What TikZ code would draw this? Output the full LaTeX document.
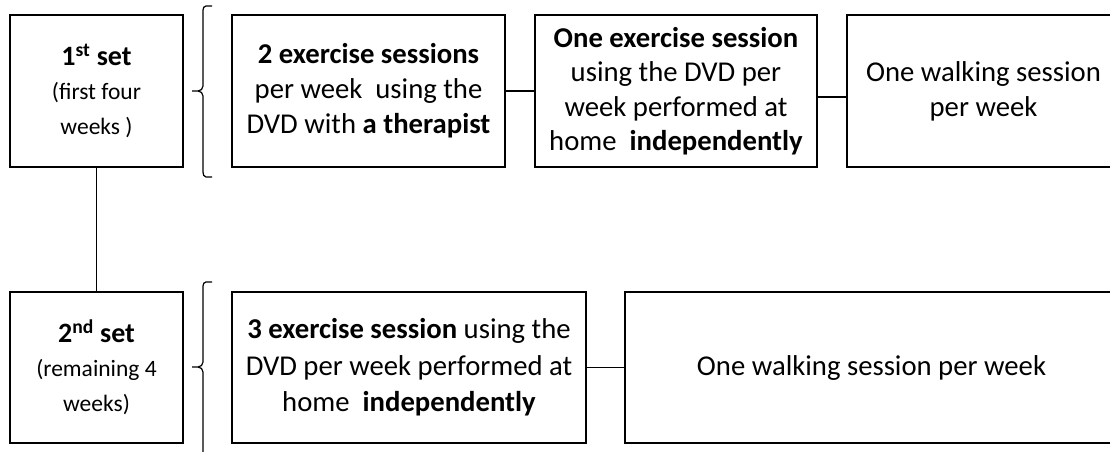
\documentclass[tikz,border=0pt]{standalone}
\usepackage{fontspec}
\setmainfont{Carlito}
\newcommand\bigset{\fontsize{28}{30}\selectfont\bfseries}
\newcommand\smallset{\fontsize{23.5}{29}\selectfont\mdseries}
\begin{document}
\begin{tikzpicture}[x=1pt,y=-1pt,
  box/.style={draw, line width=2.8pt, inner sep=0pt, align=center, font=\fontsize{28.7}{35}\selectfont},
  conn/.style={line width=1.2pt},
  bracket/.style={line width=1.2pt}]
\useasboundingbox (0,0) rectangle (1110,452);
\clip (0,0) rectangle (1110,452);
% set boxes
\node[box, minimum width=173pt, minimum height=152pt] (s1) at (96.5,91)
  {\bigset 1\textsuperscript{st} set\\[-1pt]
   \smallset (first four\\ \smallset weeks )};
\node[box, minimum width=173pt, minimum height=151pt] (s2) at (96.5,367.5)
  {\bigset 2\textsuperscript{nd} set\\[-1pt]
   \smallset (remaining 4\\ \smallset weeks)};
% first set activities
\node[box, minimum width=273pt, minimum height=152pt] (a1) at (368.5,91)
  {\textbf{2 exercise sessions}\\ per week\ \ using the\\ DVD with \textbf{a therapist}};
\node[box, minimum width=282pt, minimum height=152pt, font=\fontsize{28.7}{34.5}\selectfont] (b1) at (676,91)
  {\textbf{One exercise session}\\ using the DVD per\\ week performed at\\ home\ \ \textbf{independently}};
\node[box, minimum width=273pt, minimum height=152pt] (w1) at (983.5,91)
  {One walking session\\ per week};
% second set activities
\node[box, minimum width=354pt, minimum height=151pt, font=\fontsize{28.7}{36.5}\selectfont] (a2) at (409,367.5)
  {\textbf{3 exercise session} using the\\ DVD per week performed at\\ home\ \ \textbf{independently}};
\node[box, minimum width=493pt, minimum height=151pt] (w2) at (871.5,367.5)
  {One walking session per week};
% connectors
\draw[conn] (s1.south) -- (s2.north);
\draw[conn] (a1.east) -- (b1.west);
\draw[conn] (b1.east |- 0,97) -- (w1.west |- 0,97);
\draw[conn] (a2.east) -- (w2.west);
% brackets
\draw[bracket] (212,6) -- (206,6) to[out=180,in=90] (203,10) -- (203,86)
  to[out=-90,in=0] (198,91) -- (192,91);
\draw[bracket] (198,91) to[out=0,in=90] (203,96) -- (203,172)
  to[out=-90,in=180] (206,177) -- (212,177);
\draw[bracket] (212,282) -- (206,282) to[out=180,in=90] (203,286) -- (203,362)
  to[out=-90,in=0] (198,367) -- (192,367);
\draw[bracket] (198,367) to[out=0,in=90] (203,372) -- (203,460);
\end{tikzpicture}
\end{document}
